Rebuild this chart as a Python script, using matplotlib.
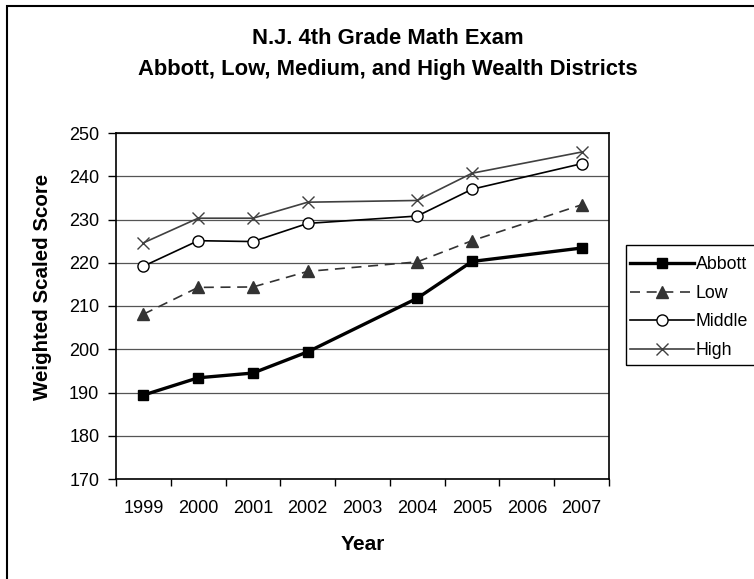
import matplotlib
matplotlib.use("Agg")
import matplotlib.pyplot as plt
from matplotlib.lines import Line2D
from matplotlib.patches import Rectangle

plt.rcParams['font.family'] = ['Liberation Sans', 'DejaVu Sans']

# Category axis labels and the years that have reported scores
year_labels = ["1999", "2000", "2001", "2002", "2003", "2004", "2005", "2006", "2007"]
data_years = ["1999", "2000", "2001", "2002", "2004", "2005", "2007"]

abbott = [189.4, 193.4, 194.5, 199.4, 211.8, 220.3, 223.4]
low = [208.1, 214.3, 214.4, 218.0, 220.2, 225.1, 233.4]
middle = [219.2, 225.1, 224.9, 229.1, 230.8, 237.0, 242.9]
high = [224.6, 230.3, 230.3, 234.0, 234.4, 240.7, 245.6]

W, H = 754, 579
fig = plt.figure(figsize=(W / 100, H / 100), dpi=100)
fig.patch.set_facecolor("white")

# outer chart-area frame (right and bottom edges run off the canvas)
fig.add_artist(Rectangle((7 / W, -0.05), 1.1, 1 - 6 / H + 0.05, transform=fig.transFigure,
                         fill=False, edgecolor="black", linewidth=1.5, clip_on=False))

ax = fig.add_axes([116 / W, 1 - 479 / H, (609 - 116) / W, (479 - 133) / H])

xpos = [year_labels.index(y) for y in data_years]

ax.plot(xpos, high, color="#404040", lw=1.2, marker="x", markersize=8.5,
        markeredgewidth=1.0, markeredgecolor="#404040", zorder=3)
ax.plot(xpos, middle, color="black", lw=1.2, marker="o", markersize=8,
        markerfacecolor="white", markeredgecolor="black", markeredgewidth=1.0, zorder=3)
ax.plot(xpos, low, color="#333333", lw=1.2, dashes=(6, 4), marker="^", markersize=9,
        markerfacecolor="#333333", markeredgecolor="#333333", zorder=3)
ax.plot(xpos, abbott, color="black", lw=2.4, marker="s", markersize=7.5,
        markerfacecolor="black", markeredgecolor="black", zorder=4)

ax.set_xlim(-0.5, len(year_labels) - 0.5)
ax.set_ylim(170, 250)
ax.set_yticks(range(170, 251, 10))
ax.yaxis.grid(True, color="#555555", lw=0.9)
ax.set_axisbelow(True)

# tick marks between categories, labels centred on categories
ax.set_xticks([i - 0.5 for i in range(len(year_labels) + 1)])
ax.set_xticklabels([])
ax.set_xticks(range(len(year_labels)), minor=True)
ax.set_xticklabels(year_labels, minor=True)
ax.tick_params(axis="x", which="major", direction="out", length=5, width=1)
ax.tick_params(axis="x", which="minor", length=0, pad=15, labelsize=13)
ax.tick_params(axis="y", direction="out", length=6, width=1, pad=6, labelsize=13)

for s in ax.spines.values():
    s.set_linewidth(1.2)
    s.set_color("black")

fig.text(388 / W, 1 - 39 / H, "N.J. 4th Grade Math Exam", ha="center", va="center",
         fontsize=15.8, fontweight="bold")
fig.text(388 / W, 1 - 69 / H, "Abbott, Low, Medium, and High Wealth Districts", ha="center",
         va="center", fontsize=15.8, fontweight="bold")
fig.text(363 / W, 1 - 544 / H, "Year", ha="center", va="center", fontsize=15, fontweight="bold")
fig.text(43 / W, 1 - 287 / H, "Weighted Scaled Score", ha="center", va="center",
         rotation=90, fontsize=14.8, fontweight="bold")

# legend
handles = [
    Line2D([], [], color="black", lw=2.4, marker="s", markersize=7.5),
    Line2D([], [], color="#333333", lw=1.2, dashes=(6, 4), marker="^", markersize=9),
    Line2D([], [], color="black", lw=1.2, marker="o", markersize=8, markerfacecolor="white"),
    Line2D([], [], color="#404040", lw=1.2, marker="x", markersize=8.5),
]
names = ["Abbott", "Low", "Middle", "High"]
fig.legend(handles, names, loc="upper left", bbox_to_anchor=(630 / W, 1 - 256 / H),
           frameon=False, fontsize=12.8, handlelength=3.6, handletextpad=0.1,
           labelspacing=0.66, borderpad=0.0, borderaxespad=0.0)
fig.add_artist(Rectangle((626 / W, 1 - 365 / H), 0.3, (365 - 245) / H,
                         transform=fig.transFigure, fill=False, edgecolor="black",
                         linewidth=1.0, clip_on=False))

fig.savefig("out.png", dpi=100, facecolor="white")
